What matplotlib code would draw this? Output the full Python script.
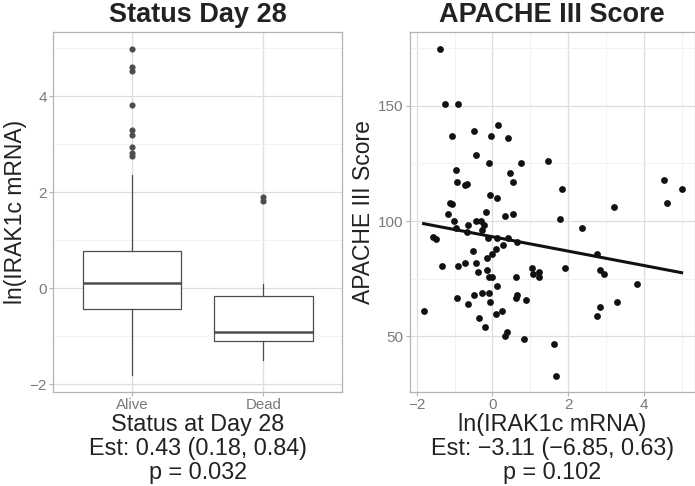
import numpy as np
import matplotlib
matplotlib.use("Agg")
import matplotlib.pyplot as plt
from matplotlib.ticker import MultipleLocator

plt.rcParams['font.family'] = ['Liberation Sans', 'DejaVu Sans']

# ---- left panel: boxplot summary of ln(IRAK1c mRNA) by status at day 28
groups = ["Alive", "Dead"]
q1 = [-0.43, -1.10]
med = [0.11, -0.91]
q3 = [0.79, -0.15]
whis_lo = [-1.81, -1.49]
whis_hi = [2.36, 0.10]
outliers_alive = [4.99, 4.61, 4.53, 3.82, 3.29, 3.20, 2.95, 2.83, 2.76]
outliers_dead = [1.91, 1.83]

# ---- right panel: APACHE III score vs ln(IRAK1c mRNA)
irak = [-1.39, -1.26, -0.92, -1.07, -0.49, 0.14, -0.04, 0.40, -0.44, -0.08,
        0.75, 1.48, -0.96, 0.46, -0.95, 0.53, -0.72, -0.68, 1.83, 4.53,
        5.00, 4.62, -0.07, 0.12, -1.12, -1.08, 3.21, -1.18, -0.16, 0.54,
        0.34, 1.78, -1.01, -0.43, -0.31, -0.96, -0.64, -0.22, 2.37, -0.67,
        -0.27, -1.57, -1.49, -0.11, 0.13, 0.42, 0.66, 0.28, 0.10, 0.00,
        -0.51, -0.15, -1.34, -0.92, -0.73, -0.44, -0.38, -0.15, -0.09, 0.00,
        0.13, 0.61, 1.04, 1.08, 1.23, 1.23, 1.91, 2.77, 2.84, 2.96,
        3.83, 3.29, 2.85, 2.75, -0.94, -0.64, -0.50, -0.29, -0.09, -0.07,
        0.61, 0.65, 0.89, 0.10, 0.24, -1.82, -0.36, -0.21, 0.39, 0.32,
        0.84, 1.62, 1.67]
apache = [174.9, 150.9, 150.9, 136.9, 138.9, 141.8, 136.9, 135.9, 128.9, 125.0,
          125.0, 125.9, 122.0, 121.0, 117.0, 117.0, 115.5, 116.1, 113.9, 118.0,
          113.9, 108.0, 111.1, 110.1, 108.0, 107.2, 106.0, 103.2, 104.0, 103.2,
          102.0, 101.0, 100.0, 100.0, 100.0, 97.1, 98.1, 98.1, 97.1, 95.1,
          96.1, 93.1, 92.2, 92.8, 92.8, 92.8, 90.8, 89.7, 87.8, 85.6,
          86.8, 83.8, 80.7, 80.7, 81.8, 81.8, 77.9, 78.7, 75.9, 75.9,
          71.8, 75.9, 79.7, 76.9, 77.9, 75.9, 79.7, 85.6, 78.7, 76.9,
          72.7, 64.8, 62.8, 58.8, 66.8, 63.8, 67.8, 68.8, 68.8, 64.8,
          66.8, 67.7, 65.8, 59.8, 60.8, 60.8, 57.8, 53.9, 51.9, 49.9,
          48.9, 46.8, 32.9]

left_label = "Status at Day 28\nEst: 0.43 (0.18, 0.84)\np = 0.032"
right_label = "ln(IRAK1c mRNA)\nEst: \u22123.11 (\u22126.85, 0.63)\np = 0.102"

TXT = "#222222"
TICK = "#7a7a7a"
BORDER = "#b3b3b3"
GRID = "#dedede"
GRID_MINOR = "#f0f0f0"


def style_axes(ax):
    for s in ax.spines.values():
        s.set_color(BORDER)
        s.set_linewidth(0.9)
    ax.grid(True, which='major', color=GRID, linewidth=0.9)
    ax.grid(True, which='minor', color=GRID_MINOR, linewidth=0.6)
    ax.set_axisbelow(True)
    ax.tick_params(which='major', color=BORDER, length=3, width=0.8,
                   labelcolor=TICK, labelsize=11, pad=1.5)
    ax.tick_params(which='minor', length=0)


fig = plt.figure(figsize=(6.95, 4.86), dpi=100)

# left: boxplot
ax1 = fig.add_axes([53.3 / 695, 1 - 391.7 / 486, 289 / 695, 359.7 / 486])
stats = []
for i, g in enumerate(groups):
    stats.append(dict(label=g, q1=q1[i], med=med[i], q3=q3[i],
                      whislo=whis_lo[i], whishi=whis_hi[i],
                      fliers=[outliers_alive, outliers_dead][i]))
ax1.bxp(stats, positions=[1, 2], widths=0.75, patch_artist=True,
        boxprops=dict(facecolor='white', edgecolor='#4d4d4d', linewidth=0.9),
        medianprops=dict(color='#4d4d4d', linewidth=1.8),
        whiskerprops=dict(color='#4d4d4d', linewidth=0.9),
        capprops=dict(linewidth=0),
        flierprops=dict(marker='o', markersize=3.4, markerfacecolor='#4d4d4d',
                        markeredgecolor='#4d4d4d'))
ax1.set_xlim(0.4, 2.6)
ax1.set_ylim(-2.15, 5.34)
ax1.yaxis.set_major_locator(MultipleLocator(2))
ax1.yaxis.set_minor_locator(MultipleLocator(1))
style_axes(ax1)
ax1.tick_params(axis='x', labelsize=10.8)
ax1.set_title("Status Day 28", fontsize=19.5, fontweight='bold', color=TXT, pad=7)
ax1.set_ylabel("ln(IRAK1c mRNA)", fontsize=16.5, color=TXT, labelpad=2)
ax1.set_xlabel(left_label, fontsize=16.8, color=TXT, linespacing=1.05, labelpad=1)

# right: scatter with linear fit
ax2 = fig.add_axes([410 / 695, 1 - 391.7 / 486, 284.5 / 695, 359.7 / 486])
x = np.array(irak)
y = np.array(apache)
ax2.scatter(x, y, s=24, color='#111111', linewidths=0, zorder=3)
slope, intercept = np.polyfit(x, y, 1)
xs = np.array([x.min(), x.max()])
ax2.plot(xs, intercept + slope * xs, color='#111111', linewidth=2.2, zorder=4)
ax2.set_xlim(-2.18, 5.34)
ax2.set_ylim(25.9, 182.1)
ax2.xaxis.set_major_locator(MultipleLocator(2))
ax2.xaxis.set_minor_locator(MultipleLocator(1))
ax2.yaxis.set_major_locator(MultipleLocator(50))
ax2.yaxis.set_minor_locator(MultipleLocator(25))
style_axes(ax2)
ax2.set_title("APACHE III Score", fontsize=19.5, fontweight='bold', color=TXT, pad=7)
ax2.set_ylabel("APACHE III Score", fontsize=16.5, color=TXT, labelpad=2)
ax2.set_xlabel(right_label, fontsize=16.8, color=TXT, linespacing=1.05, labelpad=1)

fig.savefig("out.png", dpi=100)
